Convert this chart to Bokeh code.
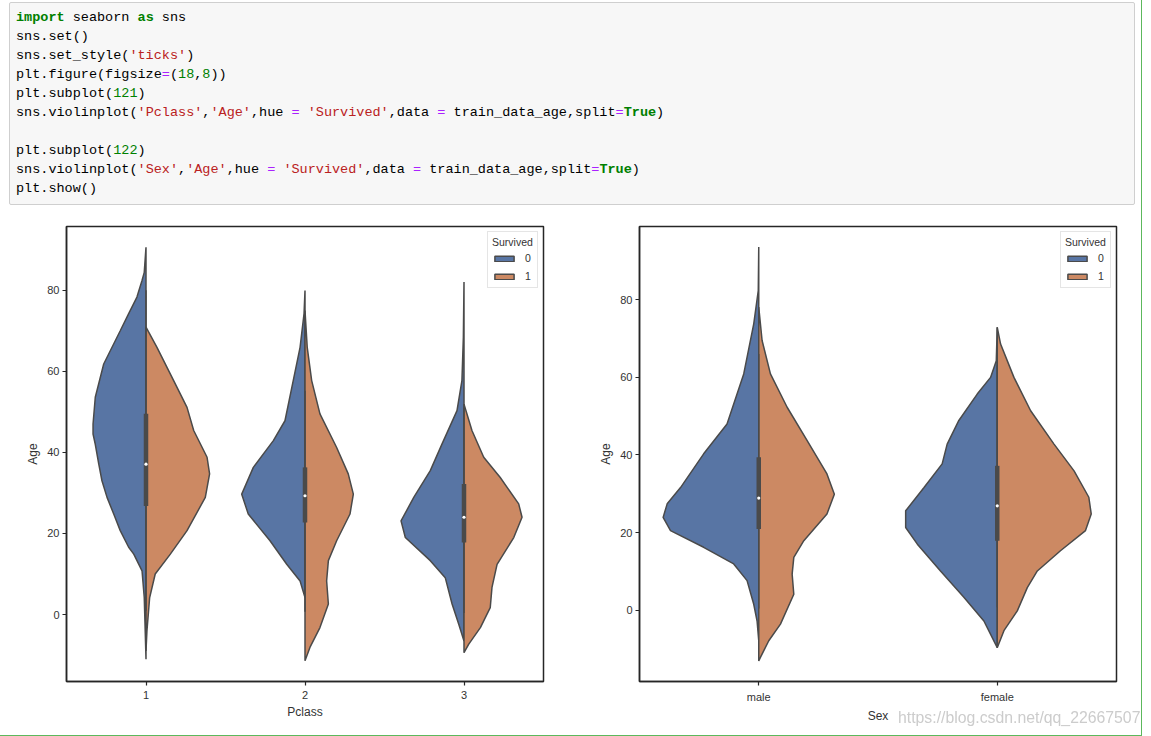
from bokeh.plotting import figure
from bokeh.models import Range1d, FixedTicker, Legend, LegendItem, Div
from bokeh.layouts import column, row
from bokeh.embed import file_html
from bokeh.resources import INLINE

# ---------------- data ----------------
pclass_cats = ["1", "2", "3"]
sex_cats = ["male", "female"]
hue_title = "Survived"
hue_levels = ["0", "1"]

# split-violin outlines: age values (top -> bottom) and half widths (category units)
pc1_s0_age = [90.6, 84.4, 82.4, 78.3, 74.2, 70.0, 61.8, 53.6, 47.0, 44.5, 42.0, 37.1, 33.0, 28.9, 24.8, 20.7, 16.6, 14.9, 10.8, 4.2, -11.0]
pc1_s0_w   = [0.0, 0.011, 0.025, 0.057, 0.109, 0.162, 0.266, 0.319, 0.333, 0.333, 0.319, 0.297, 0.277, 0.245, 0.203, 0.162, 0.109, 0.077, 0.025, 0.011, 0.0]
pc1_s1_age = [70.9, 65.9, 57.7, 51.1, 45.4, 38.8, 34.7, 28.9, 20.7, 14.9, 10.0, 4.2, -4.0, -9.0]
pc1_s1_w   = [0.0, 0.069, 0.174, 0.258, 0.300, 0.384, 0.400, 0.373, 0.258, 0.153, 0.058, 0.023, 0.006, 0.0]

pc2_s0_age = [79.9, 74.2, 65.9, 57.7, 47.8, 42.9, 36.3, 29.7, 24.8, 18.2, 12.4, 8.3, 4.2]
pc2_s0_w   = [0.0, 0.006, 0.031, 0.074, 0.126, 0.199, 0.325, 0.398, 0.357, 0.220, 0.115, 0.031, 0.0]
pc2_s1_age = [75.0, 65.9, 57.7, 49.5, 41.2, 34.7, 29.7, 24.8, 18.2, 13.3, 8.3, 2.6, -3.2, -8.1, -11.4]
pc2_s1_w   = [0.0, 0.014, 0.042, 0.094, 0.199, 0.272, 0.304, 0.283, 0.199, 0.147, 0.136, 0.147, 0.094, 0.031, 0.0]

pc3_s0_age = [82.0, 68.4, 57.7, 50.3, 42.1, 35.5, 28.9, 23.1, 19.0, 13.3, 9.1, 2.6, -2.4, -6.5]
pc3_s0_w   = [0.0, 0.004, 0.013, 0.044, 0.138, 0.212, 0.316, 0.396, 0.369, 0.212, 0.118, 0.075, 0.033, 0.0]
pc3_s1_age = [51.9, 45.4, 38.8, 33.8, 27.3, 24.0, 19.0, 12.4, 6.7, 1.7, -3.2, -7.3, -9.4]
pc3_s1_w   = [0.0, 0.050, 0.124, 0.228, 0.344, 0.365, 0.313, 0.208, 0.176, 0.165, 0.103, 0.030, 0.0]

male_s0_age = [93.6, 82.4, 73.8, 60.9, 48.0, 40.3, 31.6, 27.4, 23.9, 20.5, 16.2, 11.9, 7.6, 1.5, -2.8, -7.9]
male_s0_w   = [0.0, 0.002, 0.021, 0.063, 0.133, 0.231, 0.328, 0.384, 0.401, 0.370, 0.231, 0.105, 0.049, 0.021, 0.007, 0.0]
male_s1_age = [78.1, 69.5, 60.9, 52.3, 43.7, 35.1, 29.9, 24.8, 17.9, 13.6, 9.3, 4.1, -3.6, -7.9, -12.2, -13.1]
male_s1_w   = [0.0, 0.014, 0.049, 0.119, 0.203, 0.286, 0.317, 0.286, 0.189, 0.147, 0.140, 0.147, 0.091, 0.042, 0.007, 0.0]

female_s0_age = [72.9, 64.3, 60.0, 55.7, 48.9, 42.8, 37.7, 31.6, 25.6, 21.3, 17.0, 10.1, 3.3, -2.8, -7.1, -9.7]
female_s0_w   = [0.0, 0.004, 0.028, 0.084, 0.161, 0.210, 0.231, 0.307, 0.384, 0.384, 0.335, 0.238, 0.140, 0.056, 0.021, 0.0]
female_s1_age = [72.9, 68.6, 60.0, 51.4, 42.8, 35.9, 29.1, 24.8, 20.5, 15.3, 10.1, 5.8, -0.2, -5.3, -9.7]
female_s1_w   = [0.0, 0.014, 0.070, 0.140, 0.238, 0.322, 0.384, 0.394, 0.370, 0.265, 0.168, 0.126, 0.084, 0.028, 0.0]

# inner box statistics (both hues together)
pclass_q25 = [26.8, 22.7, 17.8]
pclass_q50 = [37.1, 29.3, 24.0]
pclass_q75 = [49.5, 36.3, 32.2]
pclass_wlo = [0.92, 0.67, 0.42]
pclass_whi = [80.0, 55.2, 51.0]

sex_q25 = [20.9, 17.9]
sex_q50 = [28.9, 26.9]
sex_q75 = [39.4, 37.2]
sex_wlo = [0.42, 0.75]
sex_whi = [66.0, 63.0]

y_ticks = [0, 20, 40, 60, 80]
watermark = "https://blog.csdn.net/qq_22667507"

code_lines = [
    [("import", "kw"), (" seaborn ", ""), ("as", "kw"), (" sns", "")],
    [("sns.set()", "")],
    [("sns.set_style(", ""), ("'ticks'", "str"), (")", "")],
    [("plt.figure(figsize", ""), ("=", "op"), ("(", ""), ("18", "num"), (",", ""), ("8", "num"), ("))", "")],
    [("plt.subplot(", ""), ("121", "num"), (")", "")],
    [("sns.violinplot(", ""), ("'Pclass'", "str"), (",", ""), ("'Age'", "str"), (",hue ", ""), ("=", "op"), (" ", ""),
     ("'Survived'", "str"), (",data ", ""), ("=", "op"), (" train_data_age,split", ""), ("=", "op"), ("True", "kw"), (")", "")],
    [],
    [("plt.subplot(", ""), ("122", "num"), (")", "")],
    [("sns.violinplot(", ""), ("'Sex'", "str"), (",", ""), ("'Age'", "str"), (",hue ", ""), ("=", "op"), (" ", ""),
     ("'Survived'", "str"), (",data ", ""), ("=", "op"), (" train_data_age,split", ""), ("=", "op"), ("True", "kw"), (")", "")],
    [("plt.show()", "")],
]

# ---------------- styling ----------------
BLUE = "#5875a4"
ORANGE = "#cc8963"
GRAY = "#4a4a4a"
TXT = "#333333"
SPINE = "#262626"
FONT = "Liberation Sans"

tok_style = {
    "": "color:#000",
    "kw": "color:#008000;font-weight:bold",
    "str": "color:#BA2121",
    "num": "color:#008000",
    "op": "color:#AA22FF",
}

def esc(s):
    return s.replace("&", "&amp;").replace("<", "&lt;").replace(">", "&gt;")

code_html = "\n".join(
    "".join(f'<span style="{tok_style[k]}">{esc(t)}</span>' for t, k in line) for line in code_lines
)

div_html = (
    '<div style="position:relative;top:-6px;left:1px;width:1126px;height:203px;box-sizing:border-box;'
    'background:#f7f7f7;border:1px solid #cfcfcf;border-radius:2px;padding:5px 0 0 6px;">'
    '<pre style="margin:0;padding:0;background:transparent;border:none;font-family:\'Liberation Mono\',monospace;'
    f'font-size:13.5px;line-height:19px;color:#000;">{code_html}</pre></div>'
    '<div style="position:fixed;z-index:1000;left:1141px;top:0px;width:1px;height:736px;background:#5cb85c;"></div>'
    '<div style="position:fixed;z-index:1000;left:0px;top:735px;width:1142px;height:1px;background:#5cb85c;"></div>'
    '<div style="position:fixed;z-index:1000;left:898px;top:708px;font-family:\'Liberation Sans\',sans-serif;font-size:15.8px;'
    f'line-height:19px;color:#cccccc;white-space:nowrap;">{watermark}</div>'
)
code_div = Div(text=div_html, width=1127, height=202, margin=0, styles={"z-index": "10"})


def panel(cats, violins, q25, q50, q75, wlo, whi, yrange, xlabel, width, left, right):
    p = figure(width=width, height=515, x_range=Range1d(-0.5, len(cats) - 0.5),
               y_range=Range1d(*yrange), output_backend="svg", toolbar_location=None,
               min_border_left=left, min_border_right=right, min_border_top=16, min_border_bottom=44)
    p.grid.visible = False
    p.background_fill_color = "white"
    p.border_fill_color = "white"
    p.outline_line_color = SPINE
    p.outline_line_width = 1.5
    p.outline_line_alpha = 1.0

    legend_rs = [None, None]
    for i, (s0_age, s0_w, s1_age, s1_w) in enumerate(violins):
        r0 = p.patch([i - w for w in s0_w], s0_age, fill_color=BLUE, line_color=GRAY, line_width=1.5)
        r1 = p.patch([i + w for w in s1_w], s1_age, fill_color=ORANGE, line_color=GRAY, line_width=1.5)
        if i == 0:
            legend_rs = [r0, r1]
    xs = list(range(len(cats)))
    p.segment(x0=xs, y0=wlo, x1=xs, y1=whi, line_color=GRAY, line_width=1.5)
    p.segment(x0=xs, y0=q25, x1=xs, y1=q75, line_color=GRAY, line_width=4.5)
    p.scatter(x=xs, y=q50, size=3.2, fill_color="white", line_color=None)

    for ax in (p.xaxis[0], p.yaxis[0]):
        ax.axis_line_color = SPINE
        ax.axis_line_width = 1.5
        ax.major_tick_line_color = SPINE
        ax.major_tick_line_width = 1.2
        ax.major_tick_in = 0
        ax.major_tick_out = 4
        ax.minor_tick_line_color = None
        ax.major_label_text_font = FONT
        ax.major_label_text_font_size = "11px"
        ax.major_label_text_color = TXT
        ax.axis_label_text_font = FONT
        ax.axis_label_text_font_size = "12px"
        ax.axis_label_text_font_style = "normal"
        ax.axis_label_text_color = TXT

    p.xaxis.ticker = FixedTicker(ticks=xs)
    p.xaxis.major_label_overrides = {i: c for i, c in enumerate(cats)}
    p.xaxis.major_label_standoff = 5
    p.xaxis.axis_label = xlabel
    p.xaxis.axis_label_standoff = 3

    p.yaxis.ticker = FixedTicker(ticks=y_ticks)
    p.yaxis.major_label_standoff = 3
    p.yaxis.axis_label = "Age"
    p.yaxis.axis_label_standoff = 4

    legend = Legend(items=[LegendItem(label=hue_levels[0], renderers=[legend_rs[0]]),
                           LegendItem(label=hue_levels[1], renderers=[legend_rs[1]])],
                    title=hue_title, location="top_right")
    legend.title_text_font = FONT
    legend.title_text_font_size = "10.5px"
    legend.title_text_font_style = "normal"
    legend.title_text_color = TXT
    legend.title_standoff = 3
    legend.label_text_font = FONT
    legend.label_text_font_size = "10.5px"
    legend.label_text_color = TXT
    legend.glyph_width = 24
    legend.glyph_height = 7
    legend.label_height = 14
    legend.label_width = 8
    legend.label_standoff = 9
    legend.spacing = 4
    legend.padding = 4
    legend.margin = 5
    legend.border_line_color = "#cccccc"
    legend.border_line_width = 1
    legend.background_fill_alpha = 0.8
    p.add_layout(legend)
    return p


p1 = panel(pclass_cats,
           [(pc1_s0_age, pc1_s0_w, pc1_s1_age, pc1_s1_w),
            (pc2_s0_age, pc2_s0_w, pc2_s1_age, pc2_s1_w),
            (pc3_s0_age, pc3_s0_w, pc3_s1_age, pc3_s1_w)],
           pclass_q25, pclass_q50, pclass_q75, pclass_wlo, pclass_whi,
           (-16.5, 95.7), "Pclass", 582, 58, 47)

p2 = panel(sex_cats,
           [(male_s0_age, male_s0_w, male_s1_age, male_s1_w),
            (female_s0_age, female_s0_w, female_s1_age, female_s1_w)],
           sex_q25, sex_q50, sex_q75, sex_wlo, sex_whi,
           (-18.4, 98.9), "Sex", 553, 49, 27)

layout = column(code_div, row(p1, p2, spacing=0), spacing=0, margin=(8, 0, 0, 8))

with open("out.html", "w") as f:
    f.write(file_html(layout, INLINE))
